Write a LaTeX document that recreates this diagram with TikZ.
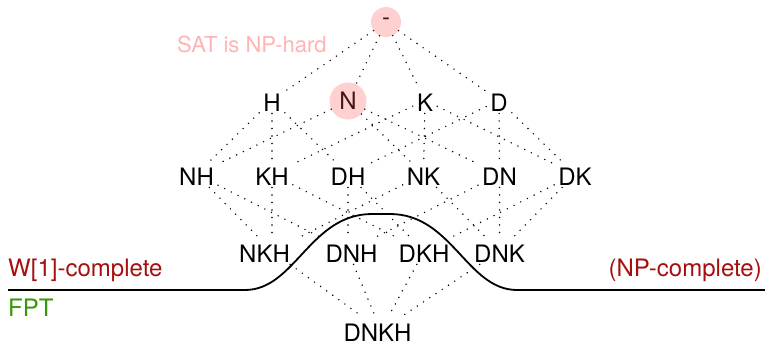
\documentclass[tikz,border=0pt]{standalone}
\usepackage{fontspec}
\setmainfont{TeX Gyre Heros}
\definecolor{hlpink}{RGB}{255,208,208}
\definecolor{hltext}{RGB}{70,20,20}
\definecolor{satpink}{RGB}{255,180,180}
\definecolor{wred}{RGB}{165,15,15}
\definecolor{fptgreen}{RGB}{55,150,10}
\begin{document}
\begin{tikzpicture}[x=1pt,y=-1pt,
  every node/.style={font=\fontsize{24}{28}\selectfont},
  vtx/.style={rectangle, inner xsep=4pt, inner ysep=2pt, text height=22pt, text depth=0pt},
  hl/.style={circle, inner sep=0pt, fill=hlpink, text=hltext},
  lnk/.style={line width=1.6pt, line cap=round, dash pattern=on 0pt off 7.5pt, black},
  lbl/.style={inner sep=0pt}]
\useasboundingbox (0,0) rectangle (765,346);
% lattice nodes
\node[hl, minimum size=30pt] (e) at (386,22) {-};
\node[vtx] (H) at (272,100.25) {H};
\node[hl, minimum size=37pt] (N) at (348,101) {N};
\node[vtx] (K) at (425,100.25) {K};
\node[vtx] (D) at (499,100.25) {D};
\node[vtx] (NH) at (196.5,174.25) {NH};
\node[vtx] (KH) at (272,174.25) {KH};
\node[vtx] (DH) at (348,174.25) {DH};
\node[vtx] (NK) at (423.5,174.25) {NK};
\node[vtx] (DN) at (499.5,174.25) {DN};
\node[vtx] (DK) at (575,174.25) {DK};
\node[vtx] (NKH) at (272,251.25) {NKH\kern15pt};
\node[vtx] (DNH) at (348,251.25) {\kern7pt DNH};
\node[vtx] (DKH) at (424,251.25) {DKH};
\node[vtx] (DNK) at (499.5,251.25) {DNK};
\node[vtx] (DNKH) at (381,330.25) {DNKH\kern7pt};
% connectors
\foreach \a/\b in {e/H,e/N,e/K,e/D,
  H/NH,H/KH,H/DH,N/NH,N/NK,N/DN,K/KH,K/NK,K/DK,D/DH,D/DN,D/DK,
  NH/NKH,NH/DNH,KH/NKH,KH/DKH,DH/DNH,DH/DKH,NK/NKH,NK/DNK,DN/DNH,DN/DNK,DK/DKH,DK/DNK,
  NKH/DNKH,DNH/DNKH,DKH/DNKH,DNK/DNKH}
  \draw[lnk] (\a) -- (\b);
% boundary curve
\draw[line width=1.8pt] (8,290) -- (245,290) .. controls (295,290) and (310,214) .. (372,214)
  -- (390,214) .. controls (452,214) and (467,290) .. (517,290) -- (765,290);
% labels
\node[lbl, anchor=base west, text=satpink, font=\fontsize{22}{26}\selectfont] (sat) at (177,52.5) {SAT is NP-hard};
\node[lbl, anchor=base west, text=wred] (w1) at (8,276.5) {W[1]-complete};
\node[lbl, anchor=base west, text=fptgreen] (fpt) at (8,316) {FPT};
\node[lbl, anchor=base east, text=wred] (npc) at (762,276.5) {(NP-complete)};
\end{tikzpicture}
\end{document}
